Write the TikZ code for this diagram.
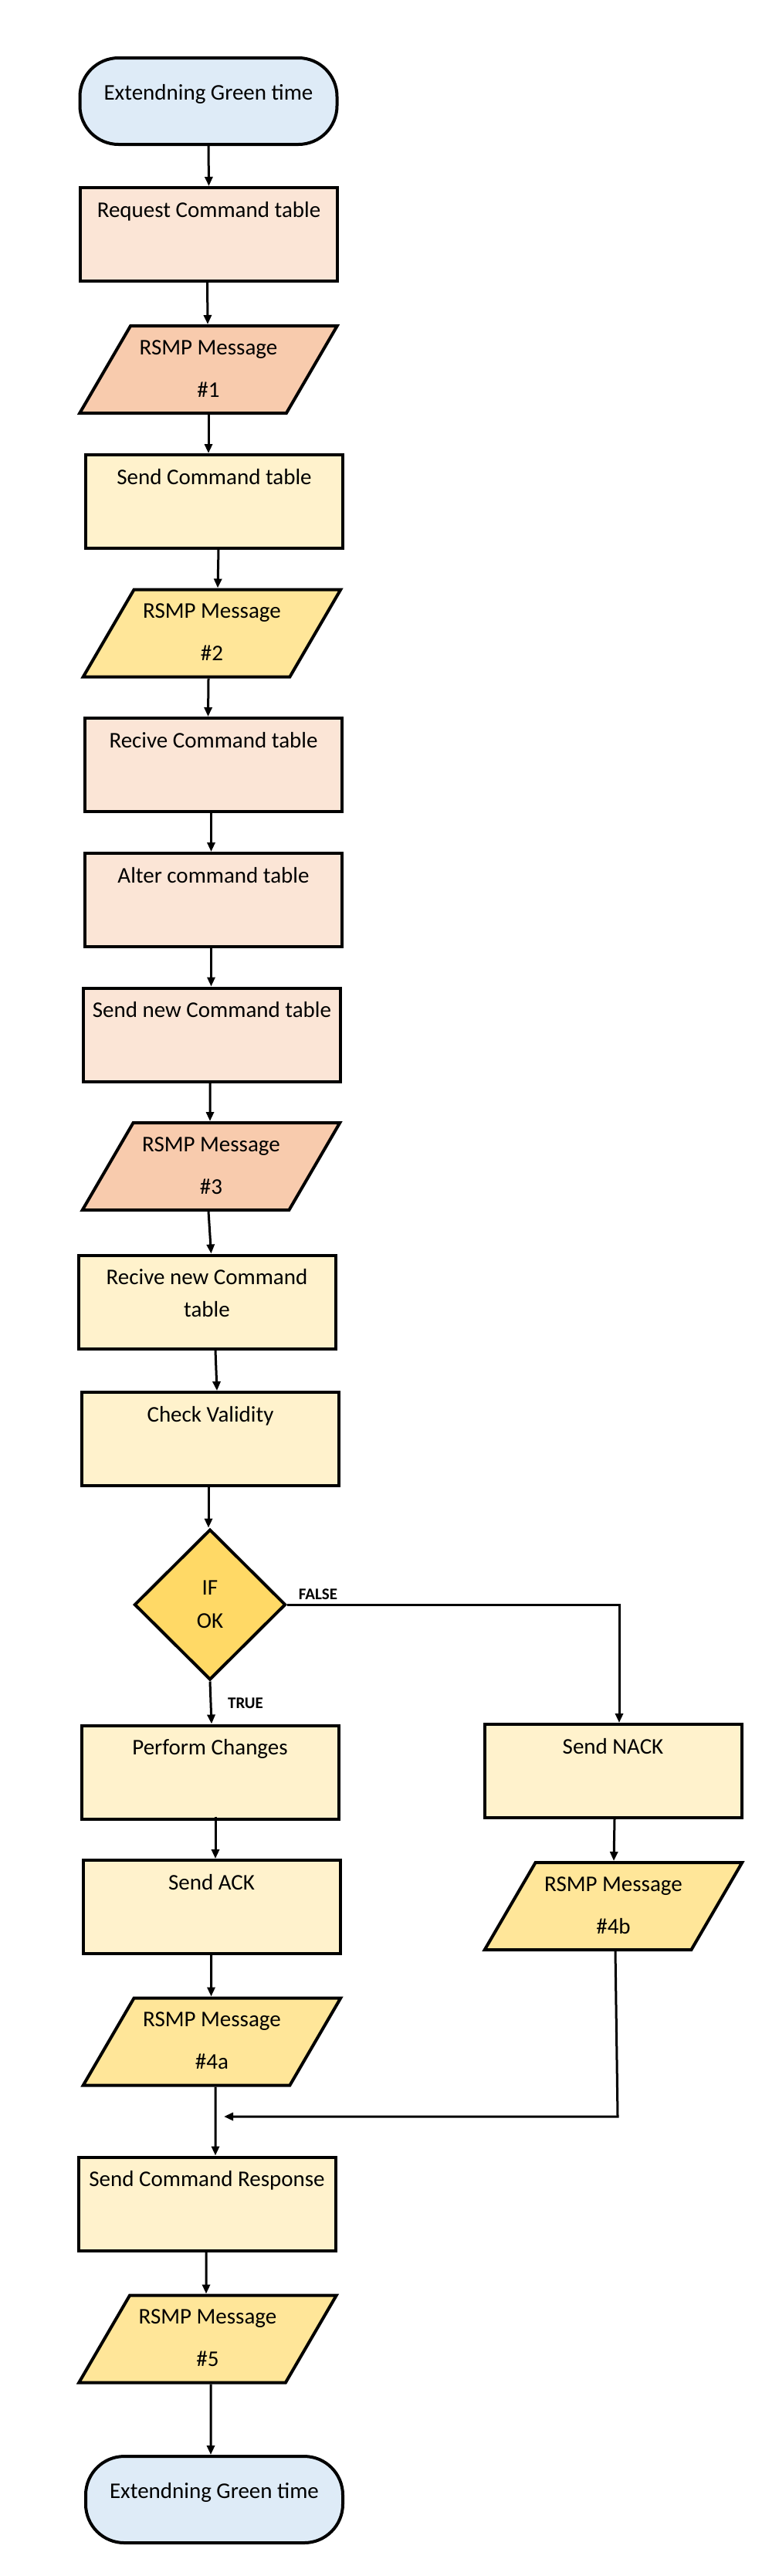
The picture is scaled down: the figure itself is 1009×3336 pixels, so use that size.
\documentclass[tikz,border=0pt]{standalone}
\usepackage{fontspec}
\setmainfont{Carlito}
\usetikzlibrary{shapes.geometric,arrows.meta}
\definecolor{termblue}{HTML}{DEEBF7}
\definecolor{peachbox}{HTML}{FBE5D6}
\definecolor{peachio}{HTML}{F8CBAD}
\definecolor{yelbox}{HTML}{FFF2CC}
\definecolor{yelio}{HTML}{FFE699}
\definecolor{decyel}{HTML}{FFD966}
\newcommand{\boxtxt}[1]{\parbox[c][121pt][t]{330pt}{\centering\vspace*{9pt}\strut #1}}
\newcommand{\iotxt}[1]{\parbox[c][113pt][t]{200pt}{\centering\vspace*{8pt}\strut RSMP Message\\[13pt]\strut #1}}
\newcommand{\termtxt}[1]{\parbox[c][112pt][t]{330pt}{\centering\vspace*{25pt}\strut #1}}
\begin{document}
\begin{tikzpicture}[x=1pt,y=-1pt,
  every node/.style={font=\fontsize{29}{42}\selectfont, inner sep=0pt},
  procbox/.style={draw=black, line width=4pt, rectangle, minimum width=333pt, minimum height=121pt},
  iobox/.style={draw=black, line width=4pt, trapezium, trapezium left angle=60, trapezium right angle=120, trapezium stretches=true, minimum width=334pt, minimum height=113pt},
  termbox/.style={draw=black, line width=4pt, rectangle, rounded corners=50pt, minimum width=333pt, minimum height=112pt, fill=termblue},
  decbox/.style={draw=black, line width=4pt, diamond, aspect=1, minimum width=196pt, minimum height=195pt, fill=decyel, align=center},
  conn/.style={line width=3pt, -{Triangle[length=12pt,width=10pt]}},
  lbl/.style={font=\fontsize{21}{26}\selectfont\bfseries, anchor=base}]
\useasboundingbox (0,0) rectangle (1009,3336);

\node[termbox] (t1) at (270,131) {\termtxt{Extendning Green time}};
\node[procbox, fill=peachbox] (b1) at (270.5,303.5) {\boxtxt{Request Command table}};
\node[iobox, fill=peachio] (p1) at (270,478.5) {\iotxt{\#1}};
\node[procbox, fill=yelbox] (b2) at (277.5,649.5) {\boxtxt{Send Command table}};
\node[iobox, fill=yelio] (p2) at (274.5,820) {\iotxt{\#2}};
\node[procbox, fill=peachbox] (b3) at (276.5,990.5) {\boxtxt{Recive Command table}};
\node[procbox, fill=peachbox] (b4) at (276.5,1165.5) {\boxtxt{Alter command table}};
\node[procbox, fill=peachbox] (b5) at (274.5,1340) {\boxtxt{Send new Command table}};
\node[iobox, fill=peachio] (p3) at (273.5,1510.5) {\iotxt{\#3}};
\node[procbox, fill=yelbox] (b6) at (268,1686) {\boxtxt{Recive new Command\\table}};
\node[procbox, fill=yelbox] (b7) at (272.5,1863.5) {\boxtxt{Check Validity}};
\node[decbox] (d) at (272,2078) {IF\\[1pt]OK};
\node[procbox, fill=yelbox] (b8) at (272,2295) {\boxtxt{Perform Changes}};
\node[procbox, fill=yelbox] (b9) at (794,2293.5) {\boxtxt{Send NACK}};
\node[procbox, fill=yelbox] (b10) at (274,2469.5) {\boxtxt{Send ACK}};
\node[iobox, fill=yelio] (p4b) at (794.5,2468.5) {\iotxt{\#4b}};
\node[iobox, fill=yelio] (p4a) at (274.5,2644) {\iotxt{\#4a}};
\node[procbox, fill=yelbox] (b11) at (268,2854) {\boxtxt{Send Command Response}};
\node[iobox, fill=yelio] (p5) at (269,3029) {\iotxt{\#5}};
\node[termbox] (t2) at (277.5,3237) {\termtxt{Extendning Green time}};

\node[lbl] (lf) at (412,2071) {FALSE};
\node[lbl] (lt) at (318,2212) {TRUE};

\coordinate (merge) at (290,2741);
\coordinate (fcorner) at (802,2078);

\draw[conn] (t1.south) -- (b1.north);
\draw[conn] ([xshift=-2pt]b1.south) -- ([xshift=-1pt]p1.north);
\draw[conn] (p1.south) -- (p1.south |- b2.north);
\draw[conn] ([xshift=5.5pt]b2.south) -- ([xshift=7.5pt]p2.north);
\draw[conn] ([xshift=-4.5pt]p2.south) -- ([xshift=-7pt]b3.north);
\draw[conn] ([xshift=-3pt]b3.south) -- ([xshift=-3pt]b4.north);
\draw[conn] ([xshift=-3pt]b4.south) -- ([xshift=-1pt]b5.north);
\draw[conn] ([xshift=-2.5pt]b5.south) -- ([xshift=-1.5pt]p3.north);
\draw[conn] ([xshift=-3.5pt]p3.south) -- ([xshift=5.5pt]b6.north);
\draw[conn] ([xshift=11pt]b6.south) -- ([xshift=8.5pt]b7.north);
\draw[conn] ([xshift=-2.5pt]b7.south) -- ([xshift=-2pt]d.north);
\draw[conn] (d.south) -- ([xshift=2pt]b8.north);
\draw[conn] ([xshift=7pt,yshift=5pt]b8.south) -- ([xshift=5pt]b10.north);
\draw[conn] ([xshift=-0.5pt]b10.south) -- ([xshift=-1pt]p4a.north);
\draw[conn] ([xshift=4.5pt]p4a.south) -- ([xshift=11pt]b11.north);
\draw[conn] ([xshift=-1pt]b11.south) -- ([xshift=-2pt]p5.north);
\draw[conn] ([xshift=4pt]p5.south) -- ([xshift=-4.5pt]t2.north);
\draw[conn] ([xshift=2pt]b9.south) -- ([xshift=0.5pt]p4b.north);
\draw[conn] ([xshift=2.5pt]p4b.south) -- ([xshift=5.5pt]p4b.south |- merge) -- (merge);
\draw[conn] (d.east) -- (fcorner) -- (fcorner |- b9.north);
\end{tikzpicture}
\end{document}
